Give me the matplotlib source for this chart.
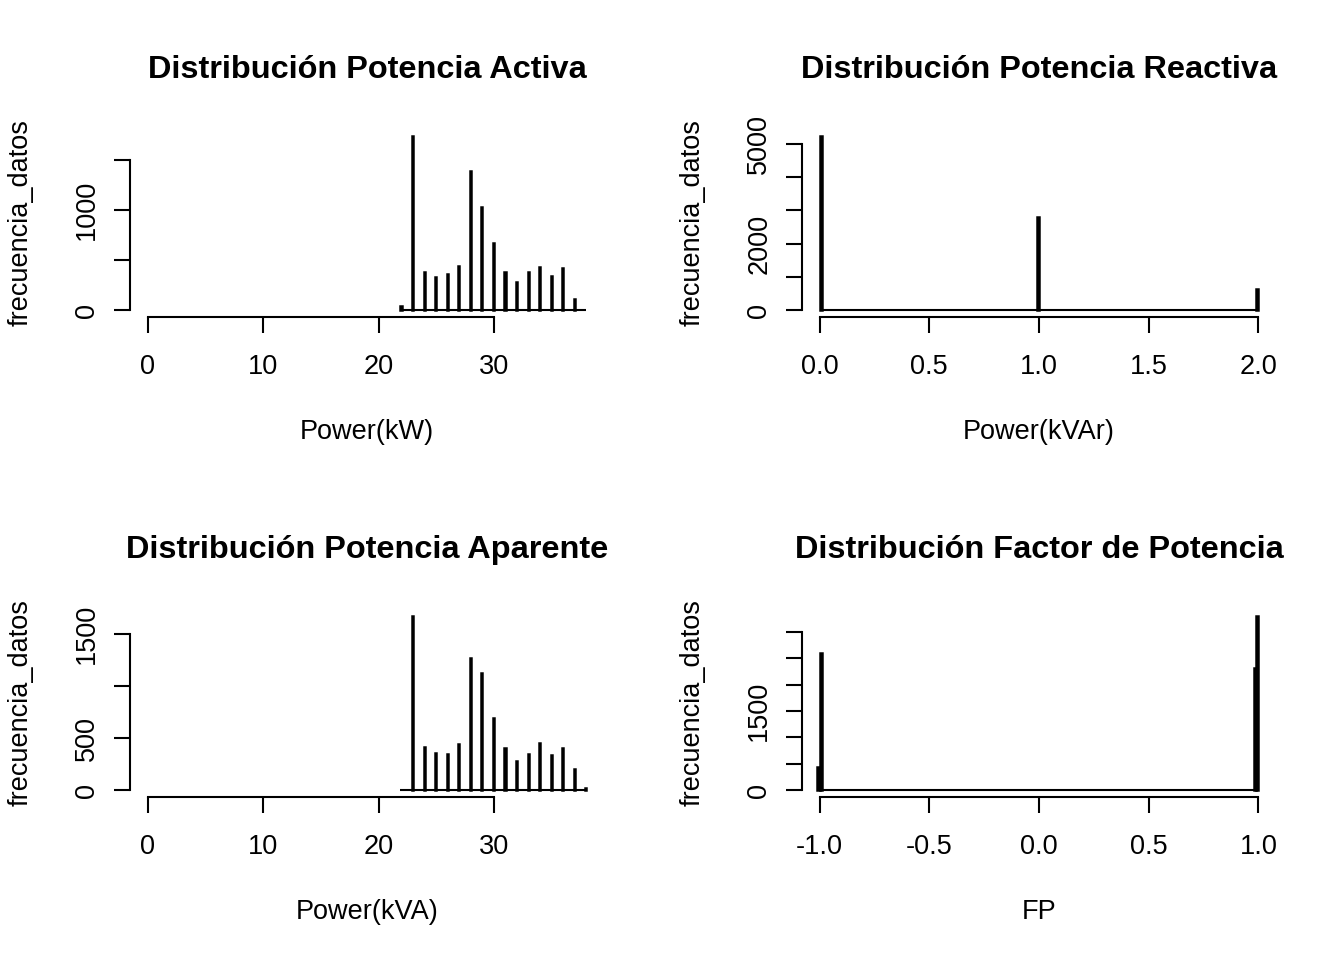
import matplotlib
matplotlib.use("Agg")
import matplotlib.pyplot as plt

plt.rcParams["font.family"] = ["Liberation Sans", "DejaVu Sans"]

# histogram bins (left edge) and counts
activa_bins = [21.9, 22.9, 23.9, 24.9, 25.9, 26.9, 27.9, 28.9, 29.9, 30.9, 31.9, 32.9, 33.9, 34.9, 35.9, 36.9]
activa_n = [43, 1740, 383, 333, 357, 443, 1393, 1033, 667, 383, 277, 383, 433, 337, 423, 113]

reactiva_bins = [0.0, 0.99, 1.99]
reactiva_n = [5240, 2810, 623]

aparente_bins = [22.9, 23.9, 24.9, 25.9, 26.9, 27.9, 28.9, 29.9, 30.9, 31.9, 32.9, 33.9, 34.9, 35.9, 36.9, 37.9]
aparente_n = [1673, 410, 353, 343, 439, 1266, 1122, 692, 401, 279, 343, 449, 337, 401, 199, 20]

fp_bins = [-1.01, -1.0, 0.98, 0.99]
fp_n = [443, 2597, 2313, 3307]

titles = ["Distribución Potencia Activa", "Distribución Potencia Reactiva",
          "Distribución Potencia Aparente", "Distribución Factor de Potencia"]
xlabels = ["Power(kW)", "Power(kVAr)", "Power(kVA)", "FP"]

panels = [
    dict(bins=activa_bins, n=activa_n, width=0.1, span=(21.9, 38.0), xlim=(0, 38),
         xticks=[0, 10, 20, 30], xticklabels=["0", "10", "20", "30"],
         yticks=[0, 500, 1000, 1500], yticklabels=["0", "", "1000", ""]),
    dict(bins=reactiva_bins, n=reactiva_n, width=0.01, span=(0.0, 2.0), xlim=(0, 2),
         xticks=[0, 0.5, 1, 1.5, 2], xticklabels=["0.0", "0.5", "1.0", "1.5", "2.0"],
         yticks=[0, 1000, 2000, 3000, 4000, 5000], yticklabels=["0", "", "2000", "", "", "5000"]),
    dict(bins=aparente_bins, n=aparente_n, width=0.1, span=(21.9, 38.0), xlim=(0, 38),
         xticks=[0, 10, 20, 30], xticklabels=["0", "10", "20", "30"],
         yticks=[0, 500, 1000, 1500], yticklabels=["0", "500", "", "1500"]),
    dict(bins=fp_bins, n=fp_n, width=0.01, span=(-1.01, 1.0), xlim=(-1, 1),
         xticks=[-1, -0.5, 0, 0.5, 1], xticklabels=["-1.0", "-0.5", "0.0", "0.5", "1.0"],
         yticks=[0, 500, 1000, 1500, 2000, 2500, 3000], yticklabels=["0", "", "", "1500", "", "", ""]),
]

W, H = 1344, 960
fig = plt.figure(figsize=(W / 100, H / 100), dpi=100)

# plot regions in pixels: left, top, right, bottom
boxes = [(130, 129, 604, 317), (802, 129, 1276, 317),
         (130, 609, 604, 797), (802, 609, 1276, 797)]

for i, (p, box) in enumerate(zip(panels, boxes)):
    l, t, r, b = box
    ax = fig.add_axes([l / W, 1 - b / H, (r - l) / W, (b - t) / H])
    ax.bar(p["bins"], p["n"], width=p["width"], align="edge",
           color="black", edgecolor="black", linewidth=1.8)
    ax.hlines(0, p["span"][0], p["span"][1], color="black", linewidth=1.5)

    x0, x1 = p["xlim"]
    ax.set_xlim(x0 - 0.04 * (x1 - x0), x1 + 0.04 * (x1 - x0))
    ymax = max(p["n"])
    ax.set_ylim(-0.04 * ymax, 1.04 * ymax)

    ax.set_xticks(p["xticks"])
    ax.set_xticklabels(p["xticklabels"])
    ax.set_yticks(p["yticks"])
    ax.set_yticklabels(p["yticklabels"], rotation=90, va="center")

    for s in ["top", "right"]:
        ax.spines[s].set_visible(False)
    ax.spines["left"].set_bounds(p["yticks"][0], p["yticks"][-1])
    ax.spines["bottom"].set_bounds(p["xticks"][0], p["xticks"][-1])
    for s in ["left", "bottom"]:
        ax.spines[s].set_linewidth(1.5)
    ax.tick_params(axis="both", length=11.5, width=1.5, labelsize=19.5)
    ax.tick_params(axis="x", pad=15.5)
    ax.tick_params(axis="y", pad=10)
    ax.patch.set_visible(False)

    cx = (l + r) / 2
    fig.text(cx / W, 1 - (t - 59) / H, titles[i], ha="center", va="center",
             fontsize=23.4, fontweight="bold")
    fig.text(cx / W, 1 - (b + 115) / H, xlabels[i], ha="center", va="center", fontsize=19.5)
    fig.text((l - 109) / W, 1 - ((t + b) / 2) / H, "frecuencia_datos", rotation=90,
             ha="center", va="center", fontsize=19.5)

fig.savefig("out.png", dpi=100)
